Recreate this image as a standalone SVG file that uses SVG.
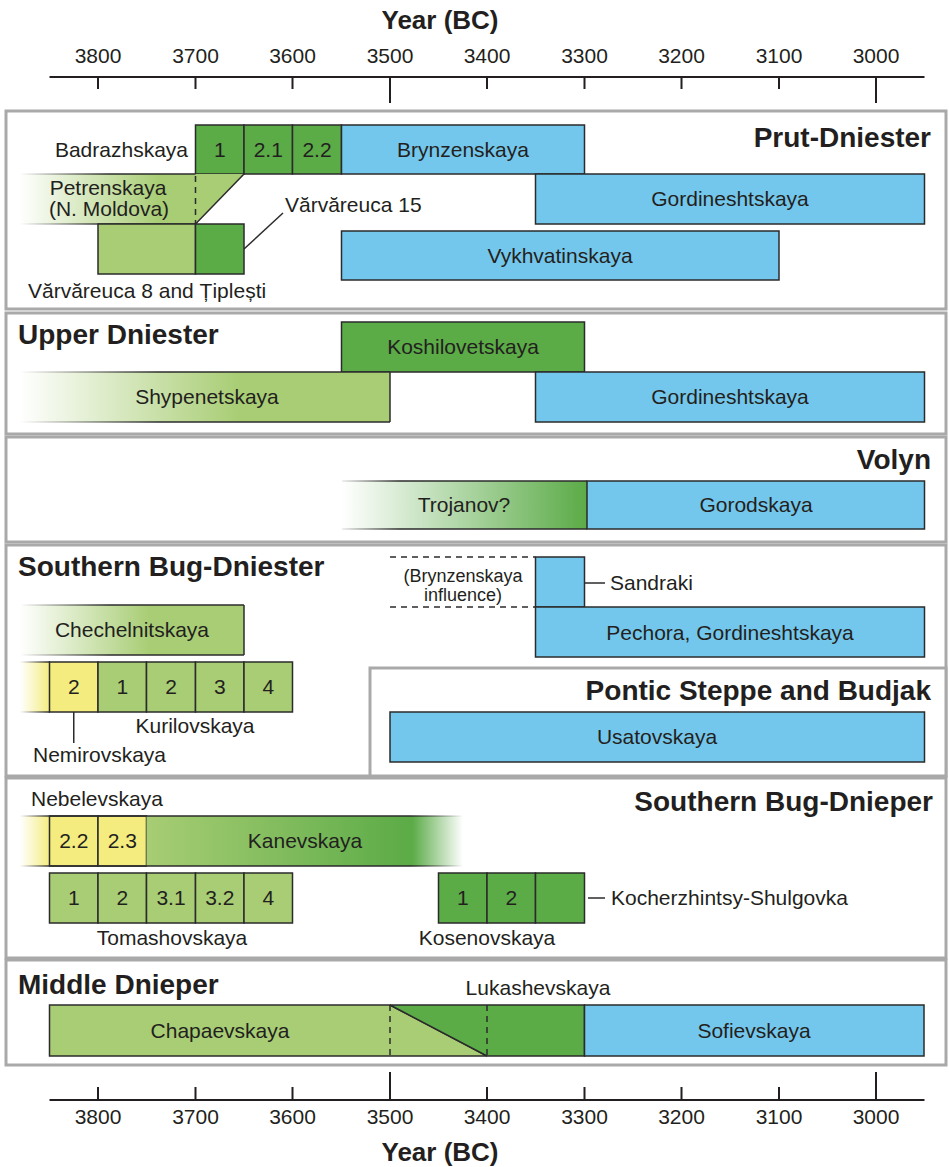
<svg xmlns="http://www.w3.org/2000/svg" width="949" height="1167" viewBox="0 0 949 1167">
<defs>
<linearGradient id="gPetF" gradientUnits="userSpaceOnUse" x1="20" y1="0" x2="160" y2="0"><stop offset="0" stop-color="#a8cd74" stop-opacity="0"/><stop offset="1" stop-color="#a8cd74"/></linearGradient>
<linearGradient id="gPetL" gradientUnits="userSpaceOnUse" x1="20" y1="0" x2="110" y2="0"><stop offset="0" stop-color="#2b2b2b" stop-opacity="0"/><stop offset="1" stop-color="#2b2b2b"/></linearGradient>
<linearGradient id="gShyF" gradientUnits="userSpaceOnUse" x1="20" y1="0" x2="240" y2="0"><stop offset="0" stop-color="#a8cd74" stop-opacity="0"/><stop offset="1" stop-color="#a8cd74"/></linearGradient>
<linearGradient id="gShyL" gradientUnits="userSpaceOnUse" x1="20" y1="0" x2="160" y2="0"><stop offset="0" stop-color="#2b2b2b" stop-opacity="0"/><stop offset="1" stop-color="#2b2b2b"/></linearGradient>
<linearGradient id="gCheF" gradientUnits="userSpaceOnUse" x1="20" y1="0" x2="150" y2="0"><stop offset="0" stop-color="#a8cd74" stop-opacity="0"/><stop offset="1" stop-color="#a8cd74"/></linearGradient>
<linearGradient id="gCheL" gradientUnits="userSpaceOnUse" x1="20" y1="0" x2="110" y2="0"><stop offset="0" stop-color="#2b2b2b" stop-opacity="0"/><stop offset="1" stop-color="#2b2b2b"/></linearGradient>
<linearGradient id="gTroF" gradientUnits="userSpaceOnUse" x1="342" y1="0" x2="587" y2="0"><stop offset="0" stop-color="#5bab47" stop-opacity="0"/><stop offset="1" stop-color="#5bab47"/></linearGradient>
<linearGradient id="gTroL" gradientUnits="userSpaceOnUse" x1="342" y1="0" x2="400" y2="0"><stop offset="0" stop-color="#2b2b2b" stop-opacity="0.1"/><stop offset="1" stop-color="#2b2b2b"/></linearGradient>
<linearGradient id="gYelF" gradientUnits="userSpaceOnUse" x1="20" y1="0" x2="50" y2="0"><stop offset="0" stop-color="#f4ec7f" stop-opacity="0"/><stop offset="1" stop-color="#f4ec7f"/></linearGradient>
<linearGradient id="gKurL" gradientUnits="userSpaceOnUse" x1="20" y1="0" x2="50" y2="0"><stop offset="0" stop-color="#2b2b2b" stop-opacity="0"/><stop offset="1" stop-color="#2b2b2b"/></linearGradient>
<linearGradient id="gKanF" gradientUnits="userSpaceOnUse" x1="146.5" y1="0" x2="463" y2="0"><stop offset="0" stop-color="#a8cd74"/><stop offset="0.84" stop-color="#5bab47"/><stop offset="1" stop-color="#5bab47" stop-opacity="0"/></linearGradient>
<linearGradient id="gNebL" gradientUnits="userSpaceOnUse" x1="20" y1="0" x2="463" y2="0"><stop offset="0" stop-color="#2b2b2b" stop-opacity="0"/><stop offset="0.07" stop-color="#2b2b2b"/><stop offset="0.88" stop-color="#2b2b2b"/><stop offset="1" stop-color="#2b2b2b" stop-opacity="0"/></linearGradient>
</defs>
<style>
.panel{fill:#fff;stroke:#a9a9a9;stroke-width:3}
.dg{fill:#5bab47;stroke:#2b2b2b;stroke-width:1.5}
.lg{fill:#a8cd74;stroke:#2b2b2b;stroke-width:1.5}
.bl{fill:#74c7ec;stroke:#2b2b2b;stroke-width:1.5}
.yl{fill:#f4ec7f;stroke:#2b2b2b;stroke-width:1.5}
.ln{stroke:#2b2b2b;stroke-width:1.5;fill:none}
.ds{stroke:#2b2b2b;stroke-width:1.5;stroke-dasharray:6 5;fill:none}
.ax{stroke:#231f20;stroke-width:2;fill:none}
text{font-family:"Liberation Sans",Arial,sans-serif;fill:#231f20}
.t{font-size:21px}
.s{font-size:18px}
.c{text-anchor:middle}
.e{text-anchor:end}
.h{font-size:28px;font-weight:bold}
.al{font-size:21px;text-anchor:middle}
.at{font-size:26px;font-weight:bold;text-anchor:middle}
</style>
<rect width="949" height="1167" fill="#fff"/>

<g id="axis-top">
<text class="at" x="440" y="29">Year (BC)</text>
<line class="ax" x1="49.5" y1="77" x2="924.5" y2="77"/>
<path class="ax" d="M98 77V89M195.5 77V89M292.5 77V89M390 77V103M487 77V89M584.5 77V89M681.5 77V89M779 77V89M876 77V103"/>
<text class="al" x="98" y="63">3800</text><text class="al" x="195.5" y="63">3700</text><text class="al" x="292.5" y="63">3600</text><text class="al" x="390" y="63">3500</text><text class="al" x="487" y="63">3400</text><text class="al" x="584.5" y="63">3300</text><text class="al" x="681.5" y="63">3200</text><text class="al" x="779" y="63">3100</text><text class="al" x="876" y="63">3000</text>
</g>

<g id="panel-prut-dniester"><rect class="panel" x="6" y="111" width="940" height="198"/><text class="h e" x="931" y="147">Prut-Dniester</text></g>
<g id="panel-upper-dniester"><rect class="panel" x="6" y="313" width="940" height="121"/><text class="h" x="18" y="344">Upper Dniester</text></g>
<g id="panel-volyn"><rect class="panel" x="6" y="437" width="940" height="105"/><text class="h e" x="931" y="469">Volyn</text></g>
<g id="panel-southern-bug-dniester"><rect class="panel" x="6" y="545" width="940" height="231"/><text class="h" x="18" y="576">Southern Bug-Dniester</text></g>
<g id="panel-pontic"><rect class="panel" x="370" y="668" width="576" height="108"/><text class="h e" x="931" y="700">Pontic Steppe and Budjak</text></g>
<g id="panel-southern-bug-dnieper"><rect class="panel" x="6" y="778" width="940" height="180"/><text class="h e" x="933" y="811">Southern Bug-Dnieper</text></g>
<g id="panel-middle-dnieper"><rect class="panel" x="6" y="960" width="940" height="105"/><text class="h" x="18" y="994">Middle Dnieper</text></g>

<!-- Prut-Dniester -->
<g id="badrazhskaya">
<rect class="dg" x="195.5" y="125" width="48.5" height="49"/><rect class="dg" x="244" y="125" width="48.5" height="49"/><rect class="dg" x="292.5" y="125" width="49" height="49"/>
<text class="t c" x="219.75" y="157">1</text><text class="t c" x="268.25" y="157">2.1</text><text class="t c" x="317" y="157">2.2</text>
<text class="t e" x="188" y="157">Badrazhskaya</text>
</g>
<g id="brynzenskaya-pd"><rect class="bl" x="341.5" y="125" width="243" height="49"/><text class="t c" x="463" y="157">Brynzenskaya</text></g>
<g id="petrenskaya">
<polygon points="20,174 244,174 195.5,224 20,224" fill="url(#gPetF)"/>
<line x1="20" y1="174" x2="195.5" y2="174" stroke="url(#gPetL)" stroke-width="1.5"/>
<line x1="20" y1="224" x2="195.5" y2="224" stroke="url(#gPetL)" stroke-width="1.5"/>
<line class="ln" x1="244" y1="174" x2="195.5" y2="224"/>
<line class="ds" x1="195.5" y1="176" x2="195.5" y2="224"/>
<text class="t c" x="108" y="195">Petrenskaya</text><text class="t c" x="109" y="216">(N. Moldova)</text>
</g>
<g id="gordineshtskaya-pd"><rect class="bl" x="535.5" y="174" width="389" height="50"/><text class="t c" x="730" y="206">Gordineshtskaya</text></g>
<g id="varvareuca-8"><rect class="lg" x="98" y="224" width="97.5" height="50"/><text class="t" x="28" y="298">Vărvăreuca 8 and Țiplești</text></g>
<g id="varvareuca-15"><rect class="dg" x="195.5" y="224" width="48.5" height="50"/><text class="t" x="285" y="212">Vărvăreuca 15</text></g>
<g id="vykhvatinskaya"><rect class="bl" x="341.5" y="231" width="437.5" height="49"/><text class="t c" x="560" y="263">Vykhvatinskaya</text></g>

<!-- Upper Dniester -->
<g id="koshilovetskaya"><rect class="dg" x="341.5" y="322" width="243" height="50"/><text class="t c" x="463" y="354">Koshilovetskaya</text></g>
<g id="shypenetskaya">
<rect x="20" y="372" width="370" height="50" fill="url(#gShyF)"/>
<line x1="20" y1="372" x2="390" y2="372" stroke="url(#gShyL)" stroke-width="1.5"/>
<line x1="20" y1="422" x2="390" y2="422" stroke="url(#gShyL)" stroke-width="1.5"/>
<line class="ln" x1="390" y1="372" x2="390" y2="422"/>
<text class="t c" x="207" y="404">Shypenetskaya</text>
</g>
<g id="gordineshtskaya-ud"><rect class="bl" x="535.5" y="372" width="389" height="50"/><text class="t c" x="730" y="404">Gordineshtskaya</text></g>

<!-- Volyn -->
<g id="trojanov">
<rect x="342" y="481" width="245" height="48" fill="url(#gTroF)"/>
<line x1="342" y1="481" x2="587" y2="481" stroke="url(#gTroL)" stroke-width="1.5"/>
<line x1="342" y1="529" x2="587" y2="529" stroke="url(#gTroL)" stroke-width="1.5"/>
<text class="t c" x="464" y="512">Trojanov?</text>
</g>
<g id="gorodskaya"><rect class="bl" x="587" y="481" width="337.5" height="48"/><text class="t c" x="756" y="512">Gorodskaya</text></g>

<!-- Southern Bug-Dniester -->
<g id="brynzenskaya-influence">
<line class="ds" x1="390" y1="557" x2="535.5" y2="557"/><line class="ds" x1="390" y1="607" x2="535.5" y2="607"/>
<text class="s c" x="463" y="582">(Brynzenskaya</text><text class="s c" x="463" y="601">influence)</text>
</g>
<g id="sandraki"><rect class="bl" x="535.5" y="557" width="49" height="50"/><text class="t" x="610" y="590">Sandraki</text></g>
<g id="pechora"><rect class="bl" x="535.5" y="607" width="389" height="50"/><text class="t c" x="730" y="640">Pechora, Gordineshtskaya</text></g>
<g id="chechelnitskaya">
<rect x="20" y="605" width="224" height="50" fill="url(#gCheF)"/>
<line x1="20" y1="605" x2="244" y2="605" stroke="url(#gCheL)" stroke-width="1.5"/>
<line x1="20" y1="655" x2="244" y2="655" stroke="url(#gCheL)" stroke-width="1.5"/>
<line class="ln" x1="244" y1="605" x2="244" y2="655"/>
<text class="t c" x="132" y="637">Chechelnitskaya</text>
</g>
<g id="nemirovskaya">
<rect x="20" y="662" width="30" height="50" fill="url(#gYelF)"/>
<line x1="20" y1="662" x2="50" y2="662" stroke="url(#gKurL)" stroke-width="1.5"/>
<line x1="20" y1="712" x2="50" y2="712" stroke="url(#gKurL)" stroke-width="1.5"/>
<rect class="yl" x="49.5" y="662" width="48.5" height="50"/>
<text class="t c" x="73.75" y="694">2</text>
<text class="t" x="33" y="762">Nemirovskaya</text>
</g>
<g id="kurilovskaya">
<rect class="lg" x="98" y="662" width="48.5" height="50"/><rect class="lg" x="146.5" y="662" width="49" height="50"/><rect class="lg" x="195.5" y="662" width="48.5" height="50"/><rect class="lg" x="244" y="662" width="48.5" height="50"/>
<text class="t c" x="122.25" y="694">1</text><text class="t c" x="171" y="694">2</text><text class="t c" x="219.75" y="694">3</text><text class="t c" x="268.25" y="694">4</text>
<text class="t c" x="195" y="733">Kurilovskaya</text>
</g>
<g id="usatovskaya"><rect class="bl" x="390" y="712" width="534.5" height="50"/><text class="t c" x="657" y="744">Usatovskaya</text></g>

<!-- Southern Bug-Dnieper -->
<g id="nebelevskaya">
<rect x="20" y="816" width="30" height="50" fill="url(#gYelF)"/>
<rect class="yl" x="49.5" y="816" width="48.5" height="50"/><rect class="yl" x="98" y="816" width="48.5" height="50"/>
<text class="t c" x="73.75" y="848">2.2</text><text class="t c" x="122.25" y="848">2.3</text>
<text class="t" x="31" y="806">Nebelevskaya</text>
</g>
<g id="kanevskaya">
<rect x="146.5" y="816" width="316.5" height="50" fill="url(#gKanF)"/>
<text class="t c" x="305" y="848">Kanevskaya</text>
</g>
<g id="nebelevskaya-kanevskaya-edges">
<line x1="20" y1="816" x2="463" y2="816" stroke="url(#gNebL)" stroke-width="1.5"/>
<line x1="20" y1="866" x2="463" y2="866" stroke="url(#gNebL)" stroke-width="1.5"/>
</g>
<g id="tomashovskaya">
<rect class="lg" x="49.5" y="873" width="48.5" height="50"/><rect class="lg" x="98" y="873" width="48.5" height="50"/><rect class="lg" x="146.5" y="873" width="49" height="50"/><rect class="lg" x="195.5" y="873" width="48.5" height="50"/><rect class="lg" x="244" y="873" width="48.5" height="50"/>
<text class="t c" x="73.75" y="905">1</text><text class="t c" x="122.25" y="905">2</text><text class="t c" x="171" y="905">3.1</text><text class="t c" x="219.75" y="905">3.2</text><text class="t c" x="268.25" y="905">4</text>
<text class="t c" x="172" y="945">Tomashovskaya</text>
</g>
<g id="kosenovskaya">
<rect class="dg" x="438.5" y="873" width="48.5" height="50"/><rect class="dg" x="487" y="873" width="48.5" height="50"/>
<text class="t c" x="462.75" y="905">1</text><text class="t c" x="511.25" y="905">2</text>
<text class="t c" x="487" y="945">Kosenovskaya</text>
</g>
<g id="kocherzhintsy"><rect class="dg" x="535.5" y="873" width="49" height="50"/><text class="t" x="611" y="905">Kocherzhintsy-Shulgovka</text></g>

<!-- Middle Dnieper -->
<g id="chapaevskaya"><polygon class="lg" points="49.5,1005 390,1005 487,1056 49.5,1056"/><text class="t c" x="220" y="1038">Chapaevskaya</text></g>
<g id="lukashevskaya">
<polygon class="dg" points="390,1005 584.5,1005 584.5,1056 487,1056"/>
<line class="ds" x1="390" y1="1005" x2="390" y2="1056"/><line class="ds" x1="487" y1="1005" x2="487" y2="1056"/>
<text class="t c" x="538" y="995">Lukashevskaya</text>
</g>
<g id="sofievskaya"><rect class="bl" x="584.5" y="1005" width="339.5" height="51"/><text class="t c" x="754" y="1038">Sofievskaya</text></g>

<g id="connectors">
<line class="ln" x1="244" y1="249" x2="283" y2="213"/>
<line class="ln" x1="584.5" y1="583" x2="605" y2="583"/>
<line class="ln" x1="73.75" y1="712" x2="73.75" y2="743"/>
<line class="ln" x1="588" y1="898" x2="605" y2="898"/>
</g>

<g id="axis-bottom">
<line class="ax" x1="49.5" y1="1100" x2="924.5" y2="1100"/>
<path class="ax" d="M98 1087V1100M195.5 1087V1100M292.5 1087V1100M390 1072V1100M487 1087V1100M584.5 1087V1100M681.5 1087V1100M779 1087V1100M876 1072V1100"/>
<text class="al" x="98" y="1124">3800</text><text class="al" x="195.5" y="1124">3700</text><text class="al" x="292.5" y="1124">3600</text><text class="al" x="390" y="1124">3500</text><text class="al" x="487" y="1124">3400</text><text class="al" x="584.5" y="1124">3300</text><text class="al" x="681.5" y="1124">3200</text><text class="al" x="779" y="1124">3100</text><text class="al" x="876" y="1124">3000</text>
<text class="at" x="440" y="1161">Year (BC)</text>
</g>
</svg>
